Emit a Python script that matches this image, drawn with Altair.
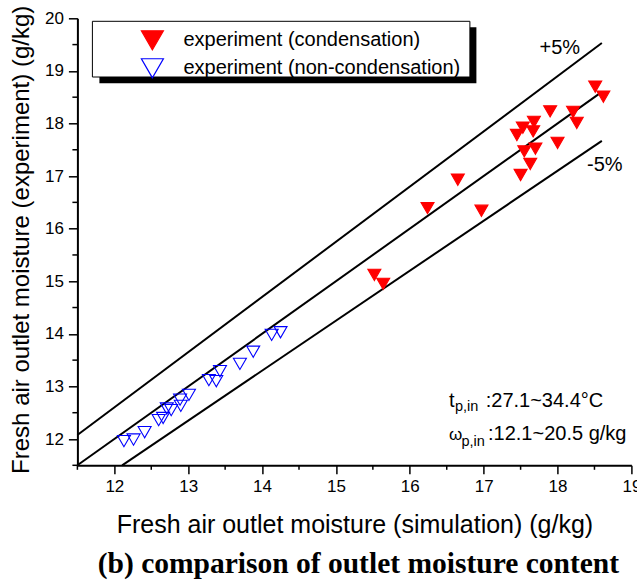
import altair as alt
import pandas as pd

# Outlet moisture of fresh air (g/kg): simulation vs. experiment
series_names = ["experiment (condensation)", "experiment (non-condensation)"]

cond_sim = [18.51, 18.62, 17.90, 18.21, 18.26, 17.68, 17.53, 17.67, 17.45, 18.00,
            17.55, 17.70, 17.63, 17.50, 16.65, 16.24, 16.97, 15.52, 15.64]
cond_exp = [18.70, 18.51, 18.23, 18.22, 18.01, 18.03, 17.92, 17.85, 17.78, 17.63,
            17.47, 17.52, 17.23, 17.02, 16.93, 16.39, 16.34, 15.12, 14.95]

noncond_sim = [12.13, 12.26, 12.41, 12.60, 12.66, 12.71, 12.77, 12.90, 12.89, 13.01,
               13.28, 13.38, 13.43, 13.70, 13.88, 14.13, 14.25]
noncond_exp = [11.96, 11.99, 12.13, 12.36, 12.40, 12.58, 12.55, 12.63, 12.75, 12.84,
               13.12, 13.10, 13.29, 13.43, 13.66, 13.98, 14.03]

# reference lines y = k * x (+5 %, equal, -5 %)
band_ratio = [1.05, 1.00, 0.95]
band_x_end = 18.6

x_min, x_max = 11.5, 19.0
y_min, y_max = 11.5, 20.0

points = pd.DataFrame({
    "sim": cond_sim + noncond_sim,
    "exp": cond_exp + noncond_exp,
    "series": [series_names[0]] * len(cond_sim) + [series_names[1]] * len(noncond_sim),
})

line_rows = []
for k in band_ratio:
    x0 = max(x_min, y_min / k)
    for xv in (x0, band_x_end):
        line_rows.append({"sim": xv, "exp": k * xv, "ratio": str(k)})
lines = pd.DataFrame(line_rows)

FONT = "Liberation Sans"
W, H = 554, 447

x_major = list(range(12, 20))
y_major = list(range(12, 21))
x_minor = [v + 0.5 for v in range(11, 19)]
y_minor = [v + 0.5 for v in range(11, 20)]


def make_axis(values, title, title_size, major, **extra):
    return alt.Axis(
        values=values,
        format="d",
        title=title,
        titleFontSize=title_size, titleFont=FONT, titleFontWeight="normal", titleColor="black",
        titleBaseline="alphabetic",
        labelFontSize=17, labelFont=FONT, labelColor="black", labelPadding=5,
        labelFlush=False,
        tickSize=major, tickColor="black", tickWidth=1.5,
        domainColor="black", domainWidth=2, grid=False,
        **extra,
    )


x_scale = alt.Scale(domain=[x_min, x_max], nice=False, zero=False)
y_scale = alt.Scale(domain=[y_min, y_max], nice=False, zero=False)

x_axis = make_axis(x_major, "Fresh air outlet moisture (simulation) (g/kg)", 25, 8.5,
                   titleY=67)
y_axis = make_axis(y_major, "Fresh air outlet moisture (experiment) (g/kg)", 24, 9,
                   titleX=-49, titleY=221, titleAngle=270)

legend = alt.Legend(
    orient="none", legendX=63, legendY=10, title=None,
    symbolType="triangle-down", symbolSize=484, symbolStrokeWidth=1.2,
    labelFontSize=20, labelFont=FONT, labelColor="black", labelOffset=19,
    labelLimit=400, rowPadding=4, padding=0, symbolOffset=0,
)

dummy = pd.DataFrame({"v": [0]})

# legend frame with its drop shadow
shadow = alt.Chart(dummy).mark_rect(color="black").encode(
    x=alt.value(22), x2=alt.value(399), y=alt.value(9), y2=alt.value(65)
)
frame = alt.Chart(dummy).mark_rect(fill="white", stroke="black", strokeWidth=1).encode(
    x=alt.value(15), x2=alt.value(392.5), y=alt.value(3), y2=alt.value(58.7)
)

band_lines = alt.Chart(lines).mark_line(color="black", strokeWidth=2).encode(
    x=alt.X("sim:Q", scale=x_scale, axis=x_axis),
    y=alt.Y("exp:Q", scale=y_scale, axis=y_axis),
    detail="ratio:N",
)

# half-step minor ticks on both axes, pointing outward
x_minor_ticks = alt.Chart(pd.DataFrame({"sim": x_minor})).mark_rule(
    color="black", strokeWidth=1.5
).encode(x=alt.X("sim:Q", scale=x_scale), y=alt.value(H), y2=alt.value(H + 4.5))
y_minor_ticks = alt.Chart(pd.DataFrame({"exp": y_minor})).mark_rule(
    color="black", strokeWidth=1.5
).encode(y=alt.Y("exp:Q", scale=y_scale), x=alt.value(0), x2=alt.value(-5))

markers = alt.Chart(points).mark_point(
    shape="triangle-down", size=169, strokeWidth=1.1, opacity=1
).encode(
    x=alt.X("sim:Q", scale=x_scale),
    y=alt.Y("exp:Q", scale=y_scale),
    fill=alt.Fill("series:N", scale=alt.Scale(domain=series_names, range=["#ff0000", "transparent"]),
                  legend=legend),
    stroke=alt.Stroke("series:N", scale=alt.Scale(domain=series_names, range=["#ff0000", "#0000ff"]),
                      legend=legend),
)

band_labels = alt.Chart(pd.DataFrame({
    "sim": [18.03, 18.64], "exp": [19.43, 17.21], "txt": ["+5%", "-5%"]
})).mark_text(font=FONT, fontSize=20, color="black", align="center", baseline="middle").encode(
    x=alt.X("sim:Q", scale=x_scale), y=alt.Y("exp:Q", scale=y_scale), text="txt:N"
)


def note(text, x, y, size, align="left", font=FONT, weight="normal"):
    return alt.Chart(dummy).mark_text(
        text=text, font=font, fontSize=size, fontWeight=weight, color="black",
        align=align, baseline="alphabetic"
    ).encode(x=alt.value(x), y=alt.value(y))


conditions = [
    note("t", 371.6, 388.7, 20),
    note("p,in", 377.5, 392.7, 14.5),
    note(":27.1~34.4°C", 408.3, 388.7, 20),
    note("ω", 371.6, 421.7, 17),
    note("p,in", 384.0, 427.7, 14.5),
    note(":12.1~20.5 g/kg", 410.6, 421.7, 20),
]

caption = note("(b) comparison of outlet moisture content", 281, 554.5, 29.5,
               align="center", font="Liberation Serif", weight="bold")

chart = alt.layer(
    shadow, frame, band_lines, x_minor_ticks, y_minor_ticks, markers, band_labels,
    *conditions, caption
).properties(
    width=W, height=H,
    autosize=alt.AutoSizeParams(type="none"),
    padding={"left": 77.4, "top": 18.3, "right": 5.6, "bottom": 114.7},
    background="white",
).configure_view(stroke=None)

chart.save("out.html", embed_options={"renderer": "svg", "actions": False})
